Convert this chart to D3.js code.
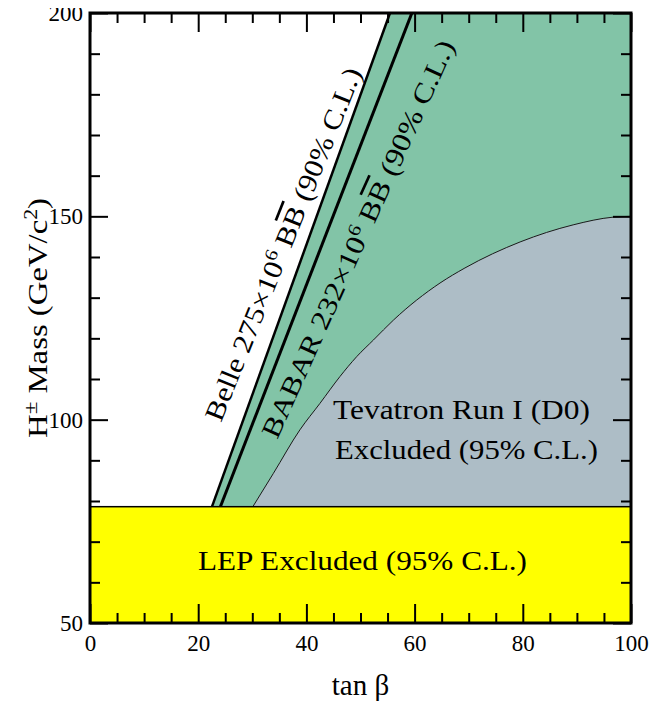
<!DOCTYPE html>
<html>
<head>
<meta charset="utf-8">
<script src="https://cdn.jsdelivr.net/npm/d3@7"></script>
<style>
  body { margin: 0; background: #fff; }
  svg { display: block; font-family: "Liberation Serif", "Times New Roman", serif; }
</style>
</head>
<body>
<svg id="plot" width="651" height="704"></svg>
<script>
// Tick values
const xMajorTicks = [0, 20, 40, 60, 80, 100];
const xMinorTicks = [5, 10, 15, 25, 30, 35, 45, 50, 55, 65, 70, 75, 85, 90, 95];
const yMajorTicks = [50, 100, 150, 200];
const yMinorTicks = [60, 70, 80, 90, 110, 120, 130, 140, 160, 170, 180, 190];

// LEP direct search limit (GeV/c^2)
const lepLimit = 78.6;

// B -> tau nu limits, straight lines in (tan beta, mass)
const belleTanB = [22.55, 55.45];
const belleMass = [78.6, 200];
const babarTanB = [24.1, 59.5];
const babarMass = [78.6, 200];

// Tevatron Run I (D0) exclusion boundary
const tevTanB = [30.1, 33.9, 38.8, 42.5, 46.2, 49.3, 52.4, 56.1, 64.7, 69.3, 79.5, 89.3, 96.7, 100];
const tevMass = [78.6, 86.8, 97.5, 104.0, 110.6, 115.5, 119.6, 124.5, 133.6, 137.3, 143.7, 147.9, 149.8, 150];

const svg = d3.select("#plot");
const x = d3.scaleLinear().domain([0, 100]).range([90, 631]);
const y = d3.scaleLinear().domain([50, 200]).range([623, 13]);

const green = "#82c4a7", grey = "#adbdc6", yellow = "#ffff00";

svg.append("clipPath").attr("id", "area").append("rect")
    .attr("x", x(0)).attr("y", y(200))
    .attr("width", x(100) - x(0)).attr("height", y(50) - y(200));
// the top tick label is cut off in the original figure
svg.append("clipPath").attr("id", "page").append("rect")
    .attr("x", 0).attr("y", 8).attr("width", 651).attr("height", 696);

const plot = svg.append("g").attr("clip-path", "url(#area)");

// green region: right of the Belle line
const greenPoly = [[belleTanB[0], belleMass[0]], [belleTanB[1], belleMass[1]], [100, 200], [100, lepLimit]];
plot.append("path")
    .attr("d", d3.line().x(d => x(d[0])).y(d => y(d[1]))(greenPoly) + "Z")
    .attr("fill", green);

// grey Tevatron region
const tev = tevTanB.map((t, i) => [t, tevMass[i]]);
plot.append("path")
    .attr("d", d3.area().x(d => x(d[0])).y0(y(lepLimit)).y1(d => y(d[1])).curve(d3.curveMonotoneX)(tev))
    .attr("fill", grey);
plot.append("path")
    .attr("d", d3.line().x(d => x(d[0])).y(d => y(d[1])).curve(d3.curveMonotoneX)(tev))
    .attr("fill", "none").attr("stroke", "#1a1a1a").attr("stroke-width", 1);

// Belle and BABAR lines
plot.append("line")
    .attr("x1", x(belleTanB[0])).attr("y1", y(belleMass[0]))
    .attr("x2", x(belleTanB[1])).attr("y2", y(belleMass[1]))
    .attr("stroke", "#000").attr("stroke-width", 2.5);
plot.append("line")
    .attr("x1", x(babarTanB[0])).attr("y1", y(babarMass[0]))
    .attr("x2", x(babarTanB[1])).attr("y2", y(babarMass[1]))
    .attr("stroke", "#000").attr("stroke-width", 3);

// LEP yellow band
plot.append("rect")
    .attr("x", x(0)).attr("y", y(lepLimit))
    .attr("width", x(100) - x(0)).attr("height", y(50) - y(lepLimit))
    .attr("fill", yellow).attr("stroke", "#000").attr("stroke-width", 1.5);

// region labels
svg.append("text").attr("x", 362.5).attr("y", 570)
    .attr("text-anchor", "middle").attr("font-size", 28)
    .attr("textLength", 329).attr("lengthAdjust", "spacingAndGlyphs")
    .text("LEP Excluded (95% C.L.)");
svg.append("text").attr("x", 333).attr("y", 419)
    .attr("font-size", 28)
    .attr("textLength", 257).attr("lengthAdjust", "spacingAndGlyphs")
    .text("Tevatron Run I (D0)");
svg.append("text").attr("x", 335).attr("y", 459)
    .attr("font-size", 28)
    .attr("textLength", 263).attr("lengthAdjust", "spacingAndGlyphs")
    .text("Excluded (95% C.L.)");

// slanted labels along the B-factory lines
function slantLabel(start, end, name, count) {
    const x0 = x(start[0]), y0 = y(start[1]), x1 = x(end[0]), y1 = y(end[1]);
    const ang = Math.atan2(y1 - y0, x1 - x0) * 180 / Math.PI;
    const len = Math.hypot(x1 - x0, y1 - y0);
    const t = svg.append("text")
        .attr("transform", "translate(" + x0 + "," + y0 + ") rotate(" + ang + ")")
        .attr("font-size", 27)
        .attr("textLength", len).attr("lengthAdjust", "spacingAndGlyphs");
    t.append("tspan").text(name + " " + count + "\u00d710");
    t.append("tspan").attr("dy", -10).attr("font-size", 18).text("6");
    t.append("tspan").attr("dy", 10).text(" B");
    t.append("tspan").style("text-decoration", "overline").text("B");
    t.append("tspan").text(" (90% C.L.)");
}
slantLabel([24.2, 99.2], [50.3, 185.5], "Belle", "275");
slantLabel([34.6, 95.0], [67.5, 192.1], "BABAR", "232");

// axes: ticks point inward on all four sides
function styleAxis(g) {
    g.select(".domain").remove();
    g.attr("font-family", null).attr("font-size", 23);
    g.selectAll("line").attr("stroke", "#000").attr("stroke-width", 2);
    g.selectAll("text").attr("fill", "#000");
}
const fmt = d3.format("d");

svg.append("g").attr("transform", "translate(0," + y(50) + ")")
    .call(d3.axisBottom(x).tickValues(xMinorTicks).tickSizeInner(-10).tickSizeOuter(0).tickFormat(""))
    .call(styleAxis);
svg.append("g").attr("transform", "translate(0," + y(50) + ")")
    .call(d3.axisBottom(x).tickValues(xMajorTicks).tickSizeInner(-19).tickSizeOuter(0).tickPadding(12).tickFormat(fmt))
    .call(styleAxis);
svg.append("g").attr("transform", "translate(0," + y(200) + ")")
    .call(d3.axisTop(x).tickValues(xMinorTicks).tickSizeInner(-10).tickSizeOuter(0).tickFormat(""))
    .call(styleAxis);
svg.append("g").attr("transform", "translate(0," + y(200) + ")")
    .call(d3.axisTop(x).tickValues(xMajorTicks).tickSizeInner(-19).tickSizeOuter(0).tickFormat(""))
    .call(styleAxis);

svg.append("g").attr("transform", "translate(" + x(0) + ",0)")
    .call(d3.axisLeft(y).tickValues(yMinorTicks).tickSizeInner(-10).tickSizeOuter(0).tickFormat(""))
    .call(styleAxis);
svg.append("g").attr("clip-path", "url(#page)")
    .append("g").attr("transform", "translate(" + x(0) + ",0)")
    .call(d3.axisLeft(y).tickValues(yMajorTicks).tickSizeInner(-18).tickSizeOuter(0).tickPadding(7).tickFormat(fmt))
    .call(styleAxis);
svg.append("g").attr("transform", "translate(" + x(100) + ",0)")
    .call(d3.axisRight(y).tickValues(yMinorTicks).tickSizeInner(-10).tickSizeOuter(0).tickFormat(""))
    .call(styleAxis);
svg.append("g").attr("transform", "translate(" + x(100) + ",0)")
    .call(d3.axisRight(y).tickValues(yMajorTicks).tickSizeInner(-18).tickSizeOuter(0).tickFormat(""))
    .call(styleAxis);

// frame
svg.append("rect")
    .attr("x", x(0)).attr("y", y(200))
    .attr("width", x(100) - x(0)).attr("height", y(50) - y(200))
    .attr("fill", "none").attr("stroke", "#000").attr("stroke-width", 3);

// axis titles
svg.append("text").attr("x", (x(0) + x(100)) / 2).attr("y", 695)
    .attr("text-anchor", "middle").attr("font-size", 29)
    .text("tan \u03b2");

const yt = svg.append("text")
    .attr("transform", "translate(47," + ((y(50) + y(200)) / 2) + ") rotate(-90)")
    .attr("text-anchor", "middle").attr("font-size", 27)
    .attr("textLength", 240).attr("lengthAdjust", "spacingAndGlyphs");
yt.append("tspan").text("H");
yt.append("tspan").attr("dy", -10).attr("font-size", 19).text("\u00b1");
yt.append("tspan").attr("dy", 10).text(" Mass (GeV/c");
yt.append("tspan").attr("dy", -10).attr("font-size", 18).text("2");
yt.append("tspan").attr("dy", 10).text(")");
</script>
</body>
</html>
